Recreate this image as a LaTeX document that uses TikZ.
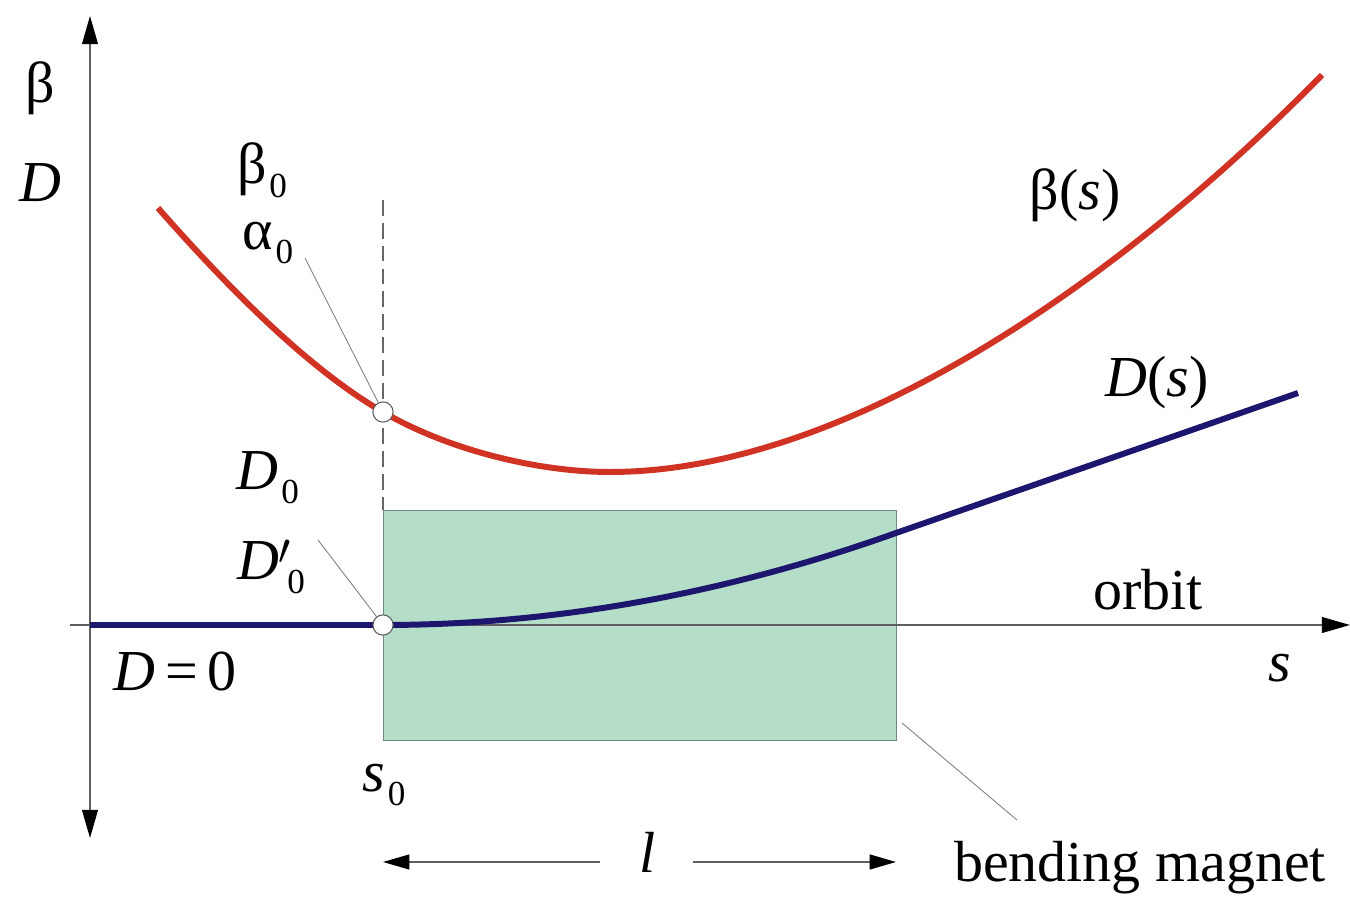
\documentclass[tikz,border=0pt]{standalone}
\usepackage{fontspec}
\setmainfont{Liberation Serif}
\usetikzlibrary{arrows.meta}
\definecolor{redc}{RGB}{208,50,36}
\definecolor{bluec}{RGB}{28,22,110}
\definecolor{magfill}{RGB}{180,222,200}
\definecolor{magdraw}{RGB}{110,140,125}
\definecolor{axisc}{RGB}{95,95,95}
\newcommand\lsub[1]{\kern1.5pt\raisebox{-8pt}{\fontsize{20}{20}\selectfont #1}}
\begin{document}
\begin{tikzpicture}[x=0.02cm,y=-0.02cm,
  lbl/.style={font=\fontsize{33}{38}\selectfont, inner sep=0pt},
  axisline/.style={draw=axisc, line width=0.8pt},
  bigtip/.style={-{Triangle[length=16pt,width=9pt,color=black]}},
  bothtip/.style={{Triangle[length=16pt,width=9pt,color=black]}-{Triangle[length=16pt,width=9pt,color=black]}},
  dimtip/.style={draw=axisc, line width=0.8pt, -{Triangle[length=15pt,width=8.5pt,color=black]}},
  leader/.style={draw=gray, line width=0.5pt},
  redcurve/.style={draw=redc, line width=3.4pt},
  bluecurve/.style={draw=bluec, line width=3.4pt},
  circ/.style={circle, draw=gray!70!black, fill=white, line width=0.6pt, minimum size=11.5pt, inner sep=0pt}]
\useasboundingbox (0,0) rectangle (1350,901);

% bending magnet
\filldraw[fill=magfill, draw=magdraw, line width=0.5pt] (383,510) rectangle (896,740);

% axes
\coordinate (ytop) at (90,16);
\coordinate (ybot) at (90,838);
\coordinate (xl) at (70,625);
\coordinate (xr) at (1350,625);
\draw[axisline, bothtip] (ybot) -- (ytop);
\draw[axisline, bigtip] (xl) -- (xr);

% dashed line at s0
\draw[draw=gray!80!black, line width=0.6pt, dash pattern=on 9pt off 4pt] (383,200) -- (383,510);

% beta curve
\coordinate (b1) at (158,208);
\coordinate (b2) at (383,412);
\coordinate (b3) at (610,472);
\coordinate (b5) at (1322,75);
\draw[redcurve] (b1) .. controls (230,290) and (310,370) .. (b2)
  .. controls (450,451) and (540,472) .. (b3)
  .. controls (844,472) and (1117,284) .. (b5);

% dispersion curve
\coordinate (dstart) at (90,625);
\coordinate (d0) at (383,625);
\coordinate (bend) at (896,533);
\coordinate (dend) at (1298,393);
\draw[bluecurve] (dstart) -- (d0) .. controls (554,625) and (725,594) .. (bend) -- (dend);

% points
\node[circ] (pb) at (b2) {};
\node[circ] (pd) at (d0) {};

% labels
\node[lbl] (beta) at (40,88) {β};
\node[lbl] (Dax) at (40,183) {\textit{D}};
\node[lbl] (beta0) at (262,170) {β\lsub{0}};
\node[lbl] (alpha0) at (268,243) {α\lsub{0}};
\node[lbl] (D0) at (268,478) {\textit{D}\lsub{0}};
\node[lbl] (Dp0) at (271,567) {\textit{D}$'$\kern-4pt\lsub{0}};
\node[lbl] (Deq) at (175,672) {\textit{D}\,=\,0};
\node[lbl] (s0) at (384,785) {\textit{s}\lsub{0}};
\node[lbl] (lab) at (648,852) {\textit{l}};
\node[lbl] (orbit) at (1148,590) {orbit};
\node[lbl] (sax) at (1280,668) {\textit{s}};
\node[lbl] (betas) at (1075,195) {β(\textit{s})};
\node[lbl] (Ds) at (1157,383) {\textit{D}(\textit{s})};
\node[lbl] (bm) at (1140,868) {bending magnet};

% leaders
\coordinate (la) at (305,258);
\coordinate (ld) at (318,540);
\coordinate (lm1) at (902,723);
\coordinate (lm2) at (1017,820);
\draw[leader] (la) -- (pb);
\draw[leader] (ld) -- (pd);
\draw[leader] (lm1) -- (lm2);

% length arrows
\coordinate (lL) at (600,862);
\coordinate (lLt) at (383,862);
\coordinate (lR) at (693,862);
\coordinate (lRt) at (896,862);
\draw[dimtip] (lL) -- (lLt);
\draw[dimtip] (lR) -- (lRt);
\end{tikzpicture}
\end{document}
